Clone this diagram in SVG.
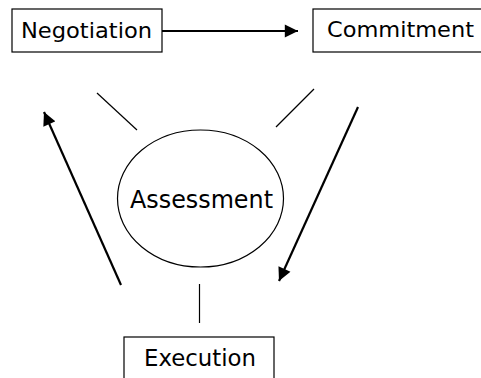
<svg xmlns="http://www.w3.org/2000/svg" width="481" height="378" viewBox="0 0 481 378">
<style>
  .box { fill: #ffffff; stroke: #000000; stroke-width: 1.2; }
  .lbl { font-family: "DejaVu Sans", "Liberation Sans", sans-serif; fill: #000000; }
  .thin { stroke: #000000; stroke-width: 1.2; fill: none; }
  .arr { stroke: #000000; stroke-width: 2.2; fill: none; marker-end: url(#ah); }
</style>
<defs>
  <marker id="ah" viewBox="0 0 10 10" refX="10" refY="5" markerWidth="6.5" markerHeight="6" markerUnits="strokeWidth" orient="auto">
    <path d="M0,0 L10,5 L0,10 z" fill="#000000"/>
  </marker>
</defs>
<rect x="0" y="0" width="481" height="378" fill="#ffffff"/>
<g id="connectors">
  <line class="arr" x1="162" y1="31" x2="298" y2="31"/>
  <line class="arr" x1="358" y1="107" x2="279" y2="281"/>
  <line class="arr" x1="121" y1="285" x2="44" y2="112"/>
  <line class="thin" x1="97" y1="93" x2="137" y2="130"/>
  <line class="thin" x1="314" y1="89" x2="276" y2="127"/>
  <line class="thin" x1="199.5" y1="284" x2="199.5" y2="323"/>
</g>
<g id="negotiation">
  <rect class="box" x="12" y="9" width="150" height="43"/>
  <text class="lbl" x="21" y="38" font-size="22" textLength="131" lengthAdjust="spacingAndGlyphs">Negotiation</text>
</g>
<g id="commitment">
  <rect class="box" x="313" y="9" width="180" height="43"/>
  <text class="lbl" x="327" y="37" font-size="22" textLength="147" lengthAdjust="spacingAndGlyphs">Commitment</text>
</g>
<g id="assessment">
  <ellipse class="box" cx="200.5" cy="198.5" rx="83" ry="68.5"/>
  <text class="lbl" x="130" y="208" font-size="24" textLength="143" lengthAdjust="spacingAndGlyphs">Assessment</text>
</g>
<g id="execution">
  <rect class="box" x="124" y="337" width="150" height="60"/>
  <text class="lbl" x="144" y="366" font-size="22.5" textLength="112" lengthAdjust="spacingAndGlyphs">Execution</text>
</g>
</svg>
